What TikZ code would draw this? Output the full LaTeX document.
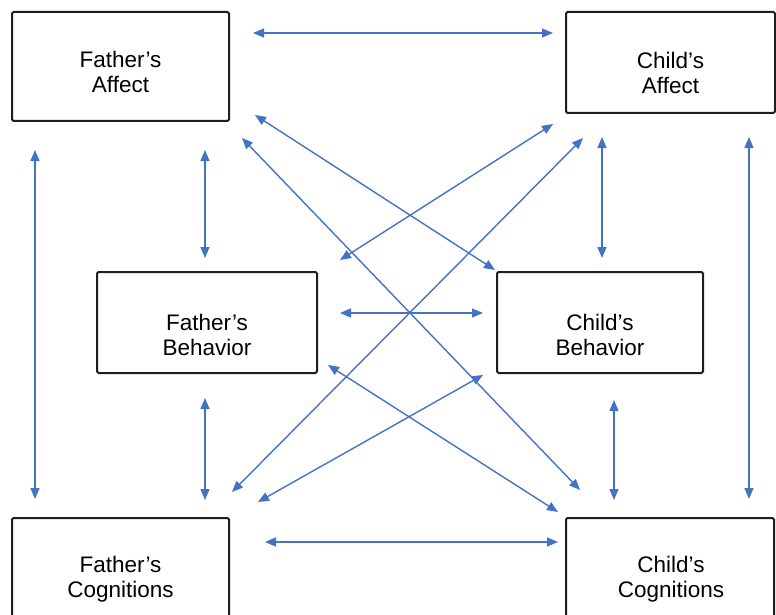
\documentclass[tikz,border=0pt]{standalone}
\usepackage{fontspec}
\setmainfont{Liberation Sans}
\usetikzlibrary{arrows.meta}
\definecolor{linkblue}{RGB}{68,114,196}
\definecolor{boxline}{RGB}{30,30,30}
\begin{document}
\begin{tikzpicture}[x=1pt,y=-1pt,
  box/.style={draw=boxline,line width=2pt,rounded corners=1.5pt,fill=white,inner sep=0pt},
  lbl/.style={align=center,font=\fontsize{22.5}{25}\selectfont,inner sep=0pt},
  link/.style={draw=linkblue,line width=1.4pt,
    {Triangle[length=11pt,width=9pt]}-{Triangle[length=11pt,width=9pt]}}]
\useasboundingbox (0,0) rectangle (776,615);
\clip (0,0) rectangle (776,615);

% boxes (corner to corner)
\node[box,fit/.style={},minimum width=217pt,minimum height=109pt] (fa) at (120.5,66.5) {};
\node[box,minimum width=209pt,minimum height=101pt] (ca) at (670.5,62.5) {};
\node[box,minimum width=220pt,minimum height=101pt] (fb) at (207,322.5) {};
\node[box,minimum width=206pt,minimum height=101pt] (cb) at (600,322.5) {};
\node[box,minimum width=217pt,minimum height=120pt] (fc) at (120.5,578) {};
\node[box,minimum width=208pt,minimum height=120pt] (cc) at (670,578) {};

% labels
\node[lbl] (tfa) at (120.5,72) {Father’s\\Affect};
\node[lbl] (tca) at (670.5,73) {Child’s\\Affect};
\node[lbl] (tfb) at (207,335) {Father’s\\Behavior};
\node[lbl] (tcb) at (600,335) {Child’s\\Behavior};
\node[lbl] (tfc) at (120.5,579) {Father’s\\Cognitions};
\node[lbl] (tcc) at (671,579) {Child’s\\Cognitions};

% arrow end points
\coordinate (faR) at (253,33);   \coordinate (caL) at (553,33);
\coordinate (faB) at (35,150);   \coordinate (fcT) at (35,499);
\coordinate (faD) at (205,150);  \coordinate (fbU) at (205,258);
\coordinate (fbD) at (205,398);  \coordinate (fcU) at (205,500);
\coordinate (caD) at (602,137);  \coordinate (cbU) at (602,258);
\coordinate (cbD) at (614,400);  \coordinate (ccU) at (614,500);
\coordinate (caB) at (749,137);  \coordinate (ccT) at (749,499);
\coordinate (fbR) at (340,313);  \coordinate (cbL) at (483,313);
\coordinate (fcR) at (265,542);  \coordinate (ccL) at (558,542);
\coordinate (faX1) at (255,115); \coordinate (cbX1) at (495,270);
\coordinate (faX2) at (242,138); \coordinate (ccX2) at (580,490);
\coordinate (caX1) at (553,124); \coordinate (fbX1) at (340,260);
\coordinate (caX2) at (583,138); \coordinate (fcX2) at (232,492);
\coordinate (fbX3) at (328,365); \coordinate (ccX3) at (558,512);
\coordinate (cbX3) at (483,375); \coordinate (fcX3) at (258,502);

% connectors
\draw[link] (faR) -- (caL);
\draw[link] (faB) -- (fcT);
\draw[link] (faD) -- (fbU);
\draw[link] (fbD) -- (fcU);
\draw[link] (caD) -- (cbU);
\draw[link] (cbD) -- (ccU);
\draw[link] (caB) -- (ccT);
\draw[link] (fbR) -- (cbL);
\draw[link] (fcR) -- (ccL);
\draw[link] (faX1) -- (cbX1);
\draw[link] (faX2) -- (ccX2);
\draw[link] (caX1) -- (fbX1);
\draw[link] (caX2) -- (fcX2);
\draw[link] (fbX3) -- (ccX3);
\draw[link] (cbX3) -- (fcX3);
\end{tikzpicture}
\end{document}
